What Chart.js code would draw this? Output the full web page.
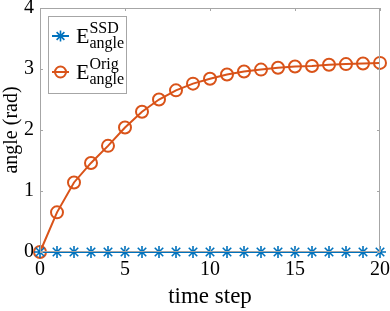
<!DOCTYPE html>
<html><head><meta charset="utf-8">
<script src="https://cdn.jsdelivr.net/npm/chart.js@4"></script>
<style>html,body{margin:0;padding:0;background:#fff}#wrap{width:390px;height:311px}</style>
</head><body><div id="wrap"><canvas id="c" width="390" height="311"></canvas></div>
<script>
const timeSteps = [0,1,2,3,4,5,6,7,8,9,10,11,12,13,14,15,16,17,18,19,20];
const ssdAngle = [0,0,0,0,0,0,0,0,0,0,0,0,0,0,0,0,0,0,0,0,0];
const origAngle = [0,0.65,1.14,1.46,1.74,2.04,2.30,2.50,2.65,2.76,2.84,2.91,2.96,2.99,3.02,3.04,3.05,3.07,3.08,3.09,3.10];
const xTicks = [0,5,10,15,20];
const yTicks = [0,1,2,3,4];
const legendEntries = [
  {base:'E', sup:'SSD', sub:'angle'},
  {base:'E', sup:'Orig', sub:'angle'}
];
const BLUE = '#0072BD', ORANGE = '#D95319';
const FONT = '"Liberation Serif","Times New Roman",serif';

const boxPlugin = {
  id:'box',
  afterDatasetsDraw(chart){
    const {ctx, chartArea:a, scales:{x,y}} = chart;
    ctx.save();
    ctx.strokeStyle = '#a6a6a6';
    ctx.lineWidth = 1;
    ctx.strokeRect(a.left+0.5, a.top+0.5, a.right-a.left-1, a.bottom-a.top-1);
    ctx.beginPath();
    const tl = 3;
    xTicks.forEach(v=>{const px=Math.round(x.getPixelForValue(v))+0.5;
      ctx.moveTo(px,a.bottom);ctx.lineTo(px,a.bottom-tl);
      ctx.moveTo(px,a.top);ctx.lineTo(px,a.top+tl);});
    yTicks.forEach(v=>{const py=Math.round(y.getPixelForValue(v))+0.5;
      ctx.moveTo(a.left,py);ctx.lineTo(a.left+tl,py);
      ctx.moveTo(a.right,py);ctx.lineTo(a.right-tl,py);});
    ctx.stroke();
    ctx.restore();
  },
  afterDraw(chart){
    const {ctx, chartArea:a} = chart;
    ctx.save();
    const lx = a.left+8, ly = a.top+8, lw = 78, lh = 77;
    ctx.fillStyle='#fff';
    ctx.fillRect(lx,ly,lw,lh);
    ctx.strokeStyle='#a6a6a6';ctx.lineWidth=1;
    ctx.strokeRect(lx+0.5,ly+0.5,lw,lh);
    const ys=[ly+20, ly+56];
    const colors=[BLUE,ORANGE];
    legendEntries.forEach((e,i)=>{
      const cy=ys[i], c=colors[i];
      ctx.strokeStyle=c;ctx.lineWidth=2;
      ctx.beginPath();ctx.moveTo(lx+4,cy);ctx.lineTo(lx+21,cy);ctx.stroke();
      const mx=lx+12.5;
      if(i===0){
        ctx.lineWidth=1.6;ctx.beginPath();
        const r=5.5;
        for(let k=0;k<4;k++){const ang=k*Math.PI/4;ctx.moveTo(mx+r*Math.cos(ang),cy+r*Math.sin(ang));ctx.lineTo(mx-r*Math.cos(ang),cy-r*Math.sin(ang));}
        ctx.stroke();
      } else {
        ctx.lineWidth=2;ctx.beginPath();ctx.arc(mx,cy,5.5,0,Math.PI*2);ctx.stroke();
      }
      ctx.fillStyle='#000';
      ctx.textBaseline='alphabetic';ctx.textAlign='left';
      ctx.font='22px '+FONT;
      ctx.fillText(e.base,lx+28,cy+7);
      const bw=ctx.measureText(e.base).width;
      ctx.font='16px '+FONT;
      ctx.fillText(e.sup,lx+28+bw,cy-3);
      ctx.fillText(e.sub,lx+28+bw,cy+12);
    });
    ctx.restore();
  }
};

function zeroPad(s){s.paddingLeft=0;s.paddingRight=0;s.paddingTop=0;s.paddingBottom=0;}

new Chart(document.getElementById('c'),{
  type:'line',
  data:{
    datasets:[
      {label:'E_angle^SSD',data:timeSteps.map((t,i)=>({x:t,y:ssdAngle[i]})),borderColor:BLUE,backgroundColor:'transparent',borderWidth:2,pointStyle:'star',pointRadius:6,pointBorderWidth:1.6,pointBorderColor:BLUE,tension:0,clip:false},
      {label:'E_angle^Orig',data:timeSteps.map((t,i)=>({x:t,y:origAngle[i]})),borderColor:ORANGE,backgroundColor:'transparent',borderWidth:2,pointStyle:'circle',pointRadius:6,pointBorderWidth:2,pointBorderColor:ORANGE,pointBackgroundColor:'transparent',tension:0,clip:false}
    ]
  },
  options:{
    responsive:false,animation:false,devicePixelRatio:1,
    layout:{padding:{top:6,right:10,left:0,bottom:0}},
    plugins:{legend:{display:false},tooltip:{enabled:false}},
    scales:{
      x:{type:'linear',min:0,max:20,
        afterBuildTicks(s){s.ticks=xTicks.map(v=>({value:v}));},
        afterFit(s){s.height=59;zeroPad(s);},
        grid:{display:false,drawTicks:false,tickLength:0},border:{display:false},
        ticks:{color:'#000',font:{family:FONT,size:20},padding:6,maxRotation:0},
        title:{display:true,text:'time step',color:'#000',font:{family:FONT,size:23},padding:{top:0,bottom:0}}
      },
      y:{type:'linear',min:0,max:4,
        afterBuildTicks(s){s.ticks=yTicks.map(v=>({value:v}));},
        afterFit(s){s.width=40;zeroPad(s);},
        grid:{display:false,drawTicks:false,tickLength:0},border:{display:false},
        ticks:{color:'#000',font:{family:FONT,size:20},padding:6},
        title:{display:true,text:'angle (rad)',color:'#000',font:{family:FONT,size:20},padding:{top:0,bottom:0}}
      }
    }
  },
  plugins:[boxPlugin]
});
</script></body></html>
